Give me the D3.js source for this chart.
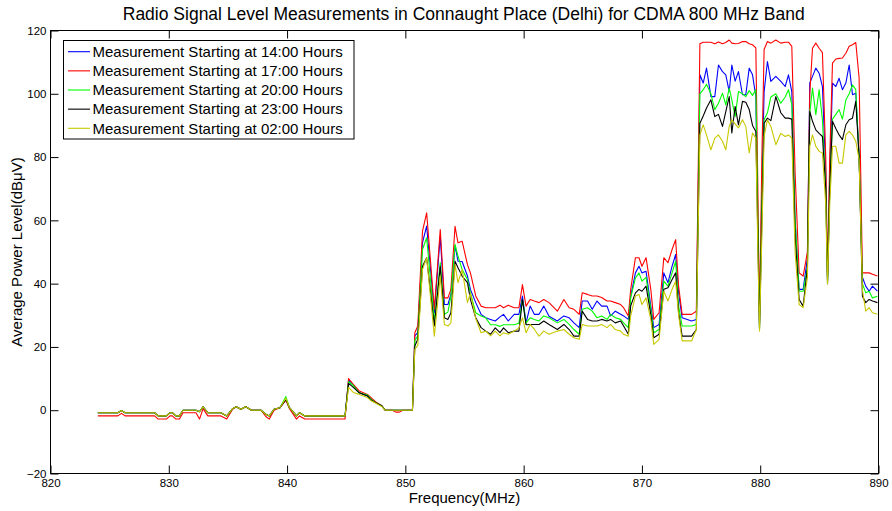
<!DOCTYPE html>
<html><head><meta charset="utf-8">
<script src="https://cdn.jsdelivr.net/npm/d3@7/dist/d3.min.js"></script>
<style>
body{margin:0;background:#fff;}
svg{display:block;font-family:"Liberation Sans",Arial,Helvetica,sans-serif;}
</style>
</head><body>
<svg id="chart" width="892" height="511"></svg>
<script>
// ---------------- DATA ----------------
const freq = [
824.0,825.7,826.0,826.3,828.8,829.1,829.8,830.1,830.3,830.6,
830.9,831.2,832.3,832.6,832.9,833.3,834.4,834.9,835.4,835.7,
836.1,836.5,837.0,837.8,838.2,838.5,838.9,839.4,839.9,840.2,
840.8,841.05,841.5,844.9,845.2,845.6,846.1,846.8,847.1,847.5,
848.0,848.3,848.9,849.2,849.5,849.8,850.6,850.8,851.05,851.45,
851.8,852.45,852.95,853.3,853.6,853.85,854.2,854.45,854.8,855.25,
855.5,855.95,856.4,856.8,857.2,857.6,858.0,858.3,858.7,859.2,
859.6,859.9,860.2,860.55,860.9,861.3,861.7,862.15,862.85,863.4,
863.85,864.25,864.7,864.95,865.4,865.8,866.2,866.6,867.05,867.35,
867.75,868.2,868.45,868.85,869.05,869.45,869.75,870.0,870.35,870.75,
871.0,871.45,871.85,872.2,872.55,872.85,873.1,873.4,874.2,874.6,
874.90,875.18,875.46,875.83,876.16,876.47,876.81,877.09,877.38,877.60,
877.88,878.16,878.50,878.78,879.07,879.35,879.63,879.80,879.94,880.14,
880.33,880.61,880.90,881.32,881.74,882.11,882.39,882.67,882.95,883.29,
883.63,883.99,884.19,884.42,884.70,884.98,885.26,885.54,885.69,885.88,
886.11,886.39,886.67,886.95,887.24,887.52,887.80,888.08,888.36,888.64,
888.92,889.21,889.49,889.91
];

const level1400 = [
-0.8,-0.8,-0.1,-0.8,-0.8,-1.8,-1.8,-0.8,-0.8,-1.8,
-1.8,0,0,-0.5,1.1,-0.8,-0.8,-1.8,0.5,1.1,
0.3,1.1,0,0,-1.3,-1.8,0.3,0.8,3.5,0.8,
-1.8,-0.8,-1.8,-1.8,9.6,8,5.5,4.5,3.5,2.4,
1.4,0,0,0,0,0,0,23.5,24.5,53,
58.2,30.8,55,33.4,33.4,36.6,52,47.1,47,42.4,
38.2,34,30.3,29.2,28.7,28.2,29.5,30.3,28.2,30.3,
30.3,36.1,27.6,32.9,30.3,30.3,32.9,29.7,28.2,29.8,
29.2,27.6,26.1,34.5,34.5,31.9,34.5,32.9,32.9,29.8,
31.3,30.3,29.8,28.7,36,43.4,45.5,43.4,43.9,32.9,
26.1,27.1,43.4,40.3,45.5,49.2,37.1,29.2,28.2,28.7,
106,103.4,108.1,99.1,99.1,109.1,107,106,100.7,109.1,
104,107,99.7,99.7,108.1,106,99.1,60,27,70,
100.7,110.2,103.9,105.5,103.9,102.3,106,100.7,60,38.2,
38.2,48,103.4,105.5,108.1,106.5,102.3,75,41,75,
103.4,102.3,104.9,101.3,103.4,109.1,99.7,100.2,80,42,
39.2,37.6,39.2,37.6
];

const level1700 = [
-1.8,-1.8,-1.0,-1.8,-1.8,-2.8,-2.8,-1.8,-1.8,-2.8,
-2.8,-0.8,-0.8,-2.8,0.5,-1.8,-1.8,-2.8,0.3,1.1,
0.3,1.1,0,0,-2.0,-2.8,0,0.8,3.2,0.5,
-2.8,-1.8,-2.8,-2.8,10,8.2,6.1,5,4,2.6,
1.4,0,0,-0.6,-0.6,0,0,24.5,26.6,56.6,
62.4,31.9,57.1,35.5,35.5,38.2,58.1,52.9,53.4,46,
43.4,36.1,32.9,32.4,32.4,32.4,33.2,32.4,33.2,32.4,
32.4,39.7,32.9,35,34.5,34,35,34,31.3,35,
32.4,31.9,30.3,37.1,36.6,36.1,36.1,35.6,34.5,34.5,
34,33.4,32.4,29.8,38.2,48.2,48.2,45.5,48.2,38.2,
28.7,30.8,48.2,46.6,50.8,53.9,39.2,30.3,30.3,31.3,
115.8,116.3,116.3,116.3,115.8,116.4,115.8,116.2,117,116,
115.8,115.9,116.5,116.5,115.8,115.5,114.5,70,28,80,
114,116.5,116,117,116,116.3,116.3,115,75,43.4,
42.4,50,100,114.4,116,114.4,113,80,42,80,
109.7,111,111.2,111.3,112.8,115,115.5,116.2,105,43.4,
43.4,43.4,43,42.4
];

const level2000 = [
-0.8,-0.8,-0.1,-0.8,-0.8,-1.8,-1.8,-0.8,-0.8,-1.8,
-1.8,0,0,-0.5,1.1,-0.8,-0.8,-1.8,0.5,1.1,
0.3,1.1,0,0,-1.3,-1.8,0.3,0.8,4.3,0.8,
-1.8,-0.8,-1.8,-1.8,9,7.8,5.5,4.8,3.5,2.4,
1.4,0,0,0,0,0,0,22,23.5,50.8,
54.5,28,46.6,30.3,31,36,52.4,48.7,44.5,41.3,
37.1,30.8,29.8,29.2,27,27,26.5,27,27,27,
27.5,35,27.6,29.2,28.7,28.2,29.8,29.2,27.6,28.7,
27.1,25.5,24,31.9,32.4,31.3,29.2,29.8,28.7,30.3,
29.2,28.7,27.6,26.1,35.5,41.8,43.4,40.8,42,31.9,
24.5,25.5,40.8,39.2,43.4,47.1,33,26.6,26.6,27.1,
100,101.3,103,100,95,97,100.2,96.5,101.8,98.1,
92.8,100.7,100,99.1,101,99.5,101.3,60,26,65,
91.8,94,99,100,97,99,101.3,96.5,60,37.6,
37.6,45,93.9,101.8,93.4,101.3,91.8,70,40.5,70,
92,93.5,95,92,98,100,102.8,101.3,80,40,
37.1,37.6,35.5,36
];

const level2300 = [
-0.8,-0.8,-0.1,-0.8,-0.8,-1.8,-1.8,-0.8,-0.8,-1.8,
-1.8,0,0,-0.5,1.1,-0.8,-0.8,-1.8,0.5,1.1,
0.3,1.1,0,0,-1.3,-1.8,0.3,0.8,3.3,0.8,
-1.8,-0.8,-1.8,-1.8,8.5,7.2,5.5,4.5,3.2,2.4,
1.4,0,0,0,0,0,0,20.3,22.4,45.5,
48.2,26.6,45.5,29.2,28.7,30.8,47.1,45,42.4,40.3,
35,29.2,26.1,25,24,26,24.5,26,24.5,25,
25,35,27,27.1,27.1,27.1,28.2,27.1,25.5,27.1,
25.5,23.4,23.4,31.3,28.7,28.2,28.2,28.7,28.2,28.7,
27.6,28.2,26.6,24,33,37.1,38.2,37.6,39.2,30.3,
22.9,24,38.2,38.7,41.3,43.4,30.8,23.4,23.4,25.5,
90.7,93,95.5,98.1,92.8,93.5,89.7,94.4,99.1,87.6,
96,90.2,97.6,97.3,95,90,88.1,55,25.5,60,
90.7,92.3,91.5,99.1,94,92.3,92.3,92,55,35,
32.9,45,94.4,91.3,88.6,87.5,86.5,70,40,70,
91.3,89,87,85.5,90.2,91.8,92.3,97.6,80,36,
34,35,34.5,34
];

const level0200 = [
-0.8,-0.8,-0.1,-0.8,-0.8,-1.8,-1.8,-0.8,-0.8,-1.8,
-1.8,0,0,-0.5,1.1,-0.8,-0.8,-1.8,0.5,1.1,
0.3,1.1,0,0,-1.3,-1.8,0.3,0.8,3.8,0.8,
-1.8,-0.8,-1.8,-1.8,7.2,5.6,5,4,3,2.2,
1.2,0,0,0,0,0,0,19.2,20.5,44.5,
48.2,23.4,42.4,27.1,26.6,27.6,46,40.3,44.5,34,
37,29,24.5,25,23.5,25,23.5,24.5,24,25,
26,29.2,24.5,27.1,25.6,23.4,25,24,25,25.5,
24,22.9,22.4,27.1,26.6,26.6,26.6,27.1,26.1,27.1,
25.5,25,24,23.4,29.8,36.1,36.6,33.4,35.5,28.7,
20.8,22.4,37.6,34.5,38.2,40.8,30,21.9,21.9,25.5,
87,90.2,87,82.3,86,87,85,82.3,89.7,91.8,
90.5,89.2,91.8,89.7,81.3,87.6,86,50,25,55,
86.5,91.8,89.7,83.9,87.5,86.5,87,86,50,33.4,
32.4,42,83.4,87,83.4,81.8,81.3,65,40,65,
83.4,83.4,78.1,78.1,87,88.1,87,85,79.2,38,
31.3,32.4,30.8,30.3
];

const seriesNames = [
  "Measurement Starting at 14:00 Hours",
  "Measurement Starting at 17:00 Hours",
  "Measurement Starting at 20:00 Hours",
  "Measurement Starting at 23:00 Hours",
  "Measurement Starting at 02:00 Hours"
];
const seriesValues = [level1400, level1700, level2000, level2300, level0200];
const seriesColors = ["#0000ff", "#ff0000", "#00ff00", "#000000", "#c8c800"];

const xTicks = [820, 830, 840, 850, 860, 870, 880, 890];
const yTicks = [-20, 0, 20, 40, 60, 80, 100, 120];
const titleText = "Radio Signal Level Measurements in Connaught Place (Delhi) for CDMA 800 MHz Band";
const xLabelText = "Frequency(MHz)";
const yLabelText = "Average Power Level(dB\u03bcV)";

// ---------------- LAYOUT ----------------
const W = 892, H = 511;
const plot = {left: 50.5, right: 878.5, top: 30.5, bottom: 473.5};

const svg = d3.select("#chart");
svg.append("rect").attr("width", W).attr("height", H).attr("fill", "#fff");

const x = d3.scaleLinear().domain([820, 890]).range([plot.left, plot.right]);
const y = d3.scaleLinear().domain([-20, 120]).range([plot.bottom, plot.top]);

// clip
svg.append("defs").append("clipPath").attr("id", "clip")
  .append("rect").attr("x", plot.left).attr("y", plot.top)
  .attr("width", plot.right - plot.left).attr("height", plot.bottom - plot.top);

// series lines
const line = d3.line().x((d, i) => x(freq[i])).y(d => y(d));
const gLines = svg.append("g").attr("clip-path", "url(#clip)");
seriesValues.forEach((vals, k) => {
  gLines.append("path")
    .datum(vals)
    .attr("d", line)
    .attr("fill", "none")
    .attr("stroke", seriesColors[k])
    .attr("stroke-width", 1.1)
    .attr("stroke-linejoin", "round");
});

// axes (ticks pointing inward, MATLAB style)
const tickLen = 8;
function styleAxis(g) {
  g.select(".domain").remove();
  g.selectAll(".tick line").attr("stroke", "#000").attr("stroke-width", 1);
  g.selectAll(".tick text").attr("fill", "#000")
    .style("font-size", "11.5px")
    .style("font-family", "'Liberation Sans', Arial, sans-serif");
}
svg.append("g").attr("transform", `translate(0,${plot.bottom})`)
  .call(d3.axisBottom(x).tickValues(xTicks).tickSizeInner(-tickLen).tickSizeOuter(0).tickPadding(5).tickFormat(d3.format("d")))
  .call(styleAxis);
svg.append("g").attr("transform", `translate(0,${plot.top})`)
  .call(d3.axisTop(x).tickValues(xTicks).tickSizeInner(-tickLen).tickSizeOuter(0).tickFormat(""))
  .call(styleAxis);
svg.append("g").attr("transform", `translate(${plot.left},0)`)
  .call(d3.axisLeft(y).tickValues(yTicks).tickSizeInner(-tickLen).tickSizeOuter(0).tickPadding(4).tickFormat(d3.format("d")))
  .call(styleAxis);
svg.append("g").attr("transform", `translate(${plot.right},0)`)
  .call(d3.axisRight(y).tickValues(yTicks).tickSizeInner(-tickLen).tickSizeOuter(0).tickFormat(""))
  .call(styleAxis);

// frame
svg.append("rect")
  .attr("x", plot.left).attr("y", plot.top)
  .attr("width", plot.right - plot.left).attr("height", plot.bottom - plot.top)
  .attr("fill", "none").attr("stroke", "#000").attr("stroke-width", 1);

// title and labels
const cx = (plot.left + plot.right) / 2;
svg.append("text").attr("x", 463.7).attr("y", 19.5)
  .attr("text-anchor", "middle").style("font-size", "17.5px").attr("fill", "#000")
  .text(titleText);
svg.append("text").attr("x", cx).attr("y", 503)
  .attr("text-anchor", "middle").style("font-size", "15px").attr("fill", "#000")
  .text(xLabelText);
svg.append("text")
  .attr("transform", `translate(22,${(plot.top + plot.bottom) / 2}) rotate(-90)`)
  .attr("text-anchor", "middle").style("font-size", "15px").attr("fill", "#000")
  .text(yLabelText);

// legend
const leg = svg.append("g");
leg.append("rect").attr("x", 63.5).attr("y", 40.5).attr("width", 290.5).attr("height", 98.5)
  .attr("fill", "#fff").attr("stroke", "#000").attr("stroke-width", 1);
seriesNames.forEach((name, k) => {
  const cy = 51.7 + k * 19.15;
  leg.append("line").attr("x1", 68).attr("x2", 90).attr("y1", cy).attr("y2", cy)
    .attr("stroke", seriesColors[k]).attr("stroke-width", 1.1);
  leg.append("text").attr("x", 92.5).attr("y", cy + 5.3)
    .style("font-size", "15px").attr("fill", "#000").text(name);
});
</script>
</body></html>
